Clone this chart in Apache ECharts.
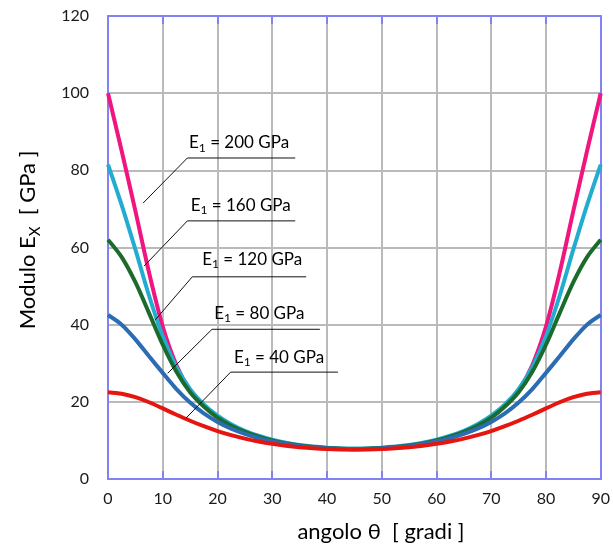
<!DOCTYPE html>
<html><head><meta charset="utf-8">
<script src="https://cdn.jsdelivr.net/npm/echarts@6/dist/echarts.min.js"></script>
<style>html,body{margin:0;padding:0;background:#fff}#c{width:613px;height:549px}</style>
</head><body><div id="c"></div>
<script>
// angle theta in degrees
const angles = [0,2.5,5,7.5,10,12.5,15,17.5,20,22.5,25,27.5,30,32.5,35,37.5,40,42.5,45,47.5,50,52.5,55,57.5,60,62.5,65,67.5,70,72.5,75,77.5,80,82.5,85,87.5,90];
// Ex [GPa]
const e200 = [100,85,69.5,53.5,39.5,29.5,23.0,19.0,16.0,13.8,12.2,11.0,10.0,9.25,8.65,8.25,7.95,7.8,7.75,7.8,7.95,8.25,8.65,9.25,10.0,11.0,12.2,13.8,16.0,19.0,23.0,29.5,39.5,53.5,69.5,85,100];
const e160 = [81.5,71,59.5,47.5,37,29.0,23.3,19.3,16.4,14.2,12.5,11.24,10.2,9.42,8.83,8.41,8.12,7.95,7.9,7.95,8.12,8.41,8.83,9.42,10.2,11.24,12.5,14.2,16.4,19.3,23.3,29.0,37,47.5,59.5,71,81.5];
const e120 = [62,57.5,51,43,34.8,27.8,22.5,18.8,15.9,13.8,12.2,10.95,9.98,9.24,8.69,8.29,8.01,7.85,7.8,7.85,8.01,8.29,8.69,9.24,9.98,10.95,12.2,13.8,15.9,18.8,22.5,27.8,34.8,43,51,57.5,62];
const e80  = [42.5,40.0,36.2,31.8,27.5,23.3,19.8,17.0,14.8,13.05,11.7,10.6,9.74,9.08,8.57,8.2,7.95,7.8,7.75,7.8,7.95,8.2,8.57,9.08,9.74,10.6,11.7,13.05,14.8,17.0,19.8,23.3,27.5,31.8,36.2,40.0,42.5];
const e40  = [22.5,22.1,21.2,19.89,18.3,16.66,15.1,13.68,12.43,11.36,10.46,9.72,9.11,8.62,8.24,7.95,7.75,7.64,7.6,7.64,7.75,7.95,8.24,8.62,9.11,9.72,10.46,11.36,12.43,13.68,15.1,16.66,18.3,19.89,21.2,22.1,22.5];

const seriesE1 = ['200','160','120','80','40'];
const seriesData = [e200, e160, e120, e80, e40];
const seriesColors = ['#f0157f','#22acd0','#1b6b2c','#2b6cb3','#e5160f'];

// annotation anchors (data coordinates)
const leaderTip    = [[6.4,71.5],[6.6,55.2],[8.6,41.2],[10.9,27.4],[14.2,15.7]];
const leaderCorner = [[14.5,83.2],[14.5,66.9],[15.4,52.4],[19.0,38.8],[22.4,27.7]];
const leaderEnd    = [[34.2,83.2],[34.2,66.9],[36.2,52.4],[38.7,38.8],[42.0,27.7]];
const labelPos     = [[14.8,87.1],[15.1,70.9],[17.2,57.0],[19.4,42.9],[23.0,31.5]];

const FONT = 'Lato, "Open Sans", sans-serif';
const axisBlue = '#8282f2';
const chart = echarts.init(document.getElementById('c'));

const series = [];
seriesData.forEach((d, i) => {
  series.push({
    type: 'line', name: 'E1 = ' + seriesE1[i] + ' GPa',
    data: angles.map((a, k) => [a, d[k]]),
    smooth: 0.3, showSymbol: false, symbol: 'none', silent: true,
    lineStyle: { color: seriesColors[i], width: 4 },
    z: 3 + i
  });
});
leaderTip.forEach((t, i) => {
  series.push({
    type: 'line', data: [t, leaderCorner[i], leaderEnd[i]],
    showSymbol: false, symbol: 'none', silent: true,
    lineStyle: { color: '#111', width: 1 }, z: 20
  });
});

const option = {
  animation: false,
  backgroundColor: '#fff',
  grid: { left: 108, right: 7, top: 16, bottom: 70, containLabel: false },
  xAxis: [{
    type: 'value', min: 0, max: 90, interval: 10, position: 'bottom',
    axisLine: { show: true, onZero: false, lineStyle: { color: axisBlue, width: 2 } },
    axisTick: { show: true, inside: true, length: 8, lineStyle: { color: axisBlue, width: 2 } },
    axisLabel: { margin: 12, color: '#1a1a1a', fontSize: 16, fontFamily: FONT },
    splitLine: { show: true, lineStyle: { color: '#bababa', width: 2 } }
  }, {
    type: 'value', min: 0, max: 90, interval: 10, position: 'top',
    axisLine: { show: true, onZero: false, lineStyle: { color: axisBlue, width: 2 } },
    axisTick: { show: true, inside: true, length: 8, lineStyle: { color: axisBlue, width: 2 } },
    axisLabel: { show: false }, splitLine: { show: false }
  }],
  yAxis: [{
    type: 'value', min: 0, max: 120, interval: 20, position: 'left',
    axisLine: { show: true, onZero: false, lineStyle: { color: axisBlue, width: 2 } },
    axisTick: { show: false },
    axisLabel: { margin: 19, color: '#1a1a1a', fontSize: 16, fontFamily: FONT },
    splitLine: { show: true, lineStyle: { color: '#bababa', width: 2 } }
  }, {
    type: 'value', min: 0, max: 120, interval: 20, position: 'right',
    axisLine: { show: true, onZero: false, lineStyle: { color: axisBlue, width: 2 } },
    axisTick: { show: false }, axisLabel: { show: false }, splitLine: { show: false }
  }],
  series: series
};
chart.setOption(option);

const richLbl = {
  n: { fontSize: 17, fontFamily: FONT, color: '#1a1a1a', lineHeight: 22, verticalAlign: 'middle' },
  s: { fontSize: 12, fontFamily: FONT, color: '#1a1a1a', lineHeight: 12, verticalAlign: 'bottom' }
};
const graphics = [];
labelPos.forEach((p, i) => {
  const px = chart.convertToPixel({ xAxisIndex: 0, yAxisIndex: 0 }, p);
  graphics.push({
    type: 'text', x: px[0], y: px[1], z: 50,
    style: { text: '{n|E}{s|1}{n| = ' + seriesE1[i] + ' GPa}', align: 'left', verticalAlign: 'middle', rich: richLbl }
  });
});
const richName = {
  n: { fontSize: 22, fontFamily: FONT, color: '#1a1a1a', lineHeight: 30, verticalAlign: 'middle' },
  s: { fontSize: 15, fontFamily: FONT, color: '#1a1a1a', lineHeight: 15, verticalAlign: 'bottom' }
};
graphics.push({
  type: 'text', x: 381, y: 532, z: 50,
  style: { text: '{n|angolo θ  [ gradi ]}', align: 'center', verticalAlign: 'middle', rich: richName }
});
graphics.push({
  type: 'text', x: 28, y: 240, rotation: Math.PI / 2, z: 50,
  style: { text: '{n|Modulo E}{s|X}{n|  [ GPa ]}', align: 'center', verticalAlign: 'middle', rich: richName }
});
chart.setOption({ graphic: graphics });
</script>
</body></html>
